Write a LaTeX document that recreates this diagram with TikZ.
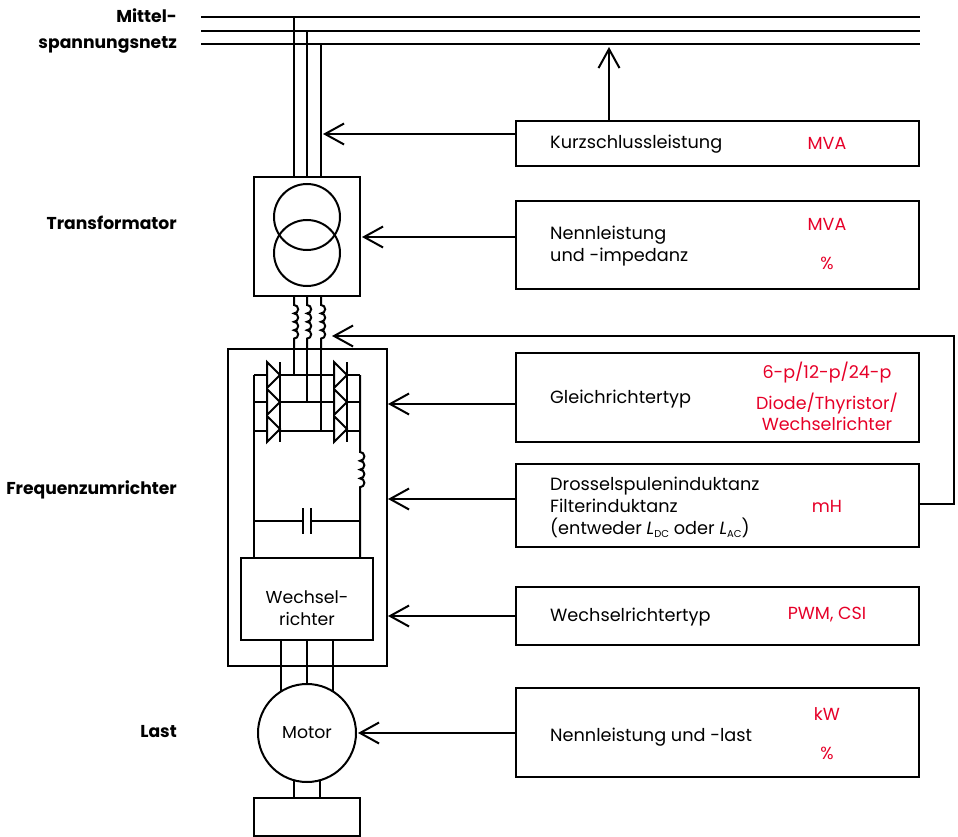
\documentclass[tikz,border=0pt]{standalone}
\usepackage{fontspec}
\setmainfont{Poppins}
\usepackage{xcolor}
\definecolor{accent}{RGB}{230,0,40}
\usetikzlibrary{arrows.meta,positioning,calc}
\tikzset{
  wire/.style={line width=2pt,draw=black},
  flow/.style={-{Straight Barb[length=19pt,width=21pt]},line width=2pt,draw=black},
  infobox/.style={draw,line width=2pt,minimum width=403pt,outer sep=0pt,inner sep=0pt},
  partbox/.style={draw,line width=2pt,outer sep=0pt,inner sep=0pt,align=center,%
    font=\fontsize{17.3}{22}\selectfont},
  info/.style={anchor=west,align=left,inner sep=0pt,font=\fontsize{17.7}{22}\selectfont},
  unit/.style={text=accent,align=center,inner sep=0pt,font=\fontsize{17.5}{21.5}\selectfont},
  row/.style={anchor=east,align=right,inner sep=0pt,font=\bfseries\fontsize{17.2}{26}\selectfont},
}
\newcommand{\subtxt}[1]{\raisebox{-3pt}{\fontsize{10}{10}\selectfont #1}}
\begin{document}
\begin{tikzpicture}[x=1pt,y=-1pt]
\useasboundingbox (0,0) rectangle (958,837);
\node[row] (netz) at (177,31) {Mittel-\\spannungsnetz};
\node[row] (trafolbl) at (177,223) {Transformator};
\node[row] (fulbl) at (177,490) {Frequenzumrichter};
\node[row] (lastlbl) at (177,732) {Last};

\node[infobox,minimum height=45pt] (kurz) at (717.5,143.5) {};
\node[infobox,minimum height=88pt,below=35pt of kurz] (nenn) {};
\node[infobox,minimum height=89pt,below=64pt of nenn] (gleich) {};
\node[infobox,minimum height=83pt,below=22pt of gleich] (dross) {};
\node[infobox,minimum height=58pt,below=40pt of dross] (wr) {};
\node[infobox,minimum height=89pt,below=43pt of wr] (last) {};

\node[info] (kurztxt) at (550,144) {Kurzschlussleistung};
\node[info] (nenntxt) at (550,246) {Nennleistung\\und -impedanz};
\node[info] (gleichtxt) at (550,399) {Gleichrichtertyp};
\node[info] (drosstxt) at (550,507) {Drosselspuleninduktanz\\Filterinduktanz\\(entweder \textit{L}\subtxt{DC} oder \textit{L}\subtxt{AC})};
\node[info] (wrtxt) at (550,617) {Wechselrichtertyp};
\node[info] (lasttxt) at (550,737) {Nennleistung und -last};

\node[unit] (kurzval) at (827,143) {MVA};
\node[unit] (nennval) at (827,224) {MVA};
\node[unit] (nennpct) at (827,263) {\%};
\node[unit] (gleichval) at (827,373) {6-p/12-p/24-p};
\node[unit] (gleichart) at (827,412) {Diode/Thyristor/\\Wechselrichter};
\node[unit] (drossval) at (827,506) {mH};
\node[unit] (wrval) at (827,615) {PWM, CSI};
\node[unit] (lastval) at (827,714) {kW};
\node[unit] (lastpct) at (827,753) {\%};

\coordinate (busa) at (201,17);
\coordinate (busb) at (201,31);
\coordinate (busc) at (201,44);
\foreach \b in {a,b,c}
  \draw[wire] (bus\b) -- (920,0 |- bus\b);

\node[partbox,minimum width=106pt,minimum height=119pt] (trafo) at (307,236.5) {};
\node[draw,circle,line width=2pt,minimum size=66pt,inner sep=0pt] (prim) at (307,217) {};
\node[draw,circle,line width=2pt,minimum size=66pt,inner sep=0pt] (sek) at (307,253) {};
\node[partbox,minimum width=159pt,minimum height=317pt] (fu) at (307.5,507.5) {};
\node[partbox,minimum width=132pt,minimum height=82pt,fill=white] (wechsel) at (307,599) {};
\node[partbox,draw=none] (wechseltxt) at (307,608) {Wechsel-\\richter};
\node[partbox,circle,minimum size=98pt] (motor) at (307,733) {Motor};
\node[partbox,minimum width=106pt,minimum height=38pt] (load) at (307,817) {};

\foreach \p/\b in {294/a,307/b,321/c}
  \draw[wire] (\p,0 |- bus\b) -- (\p,0 |- trafo.north);
\foreach \p in {294,307,321}
  \draw[wire] (\p,0 |- trafo.south) -- ++(0,9) arc(90:-90:4.2pt) arc(90:-90:4.2pt) arc(90:-90:4.2pt) arc(90:-90:4.2pt) -- (\p,0 |- fu.north);

\foreach \p/\y in {294/375,307/402,321/431}
  \draw[wire] (\p,0 |- fu.north) -- (\p,\y);
\foreach \y in {375,402,431}
  \draw[wire] (254,\y) -- (360,\y);
\draw[wire] (254,375) -- (254,0 |- wechsel.north);
\draw[wire] (360,375) -- (360,452) arc(90:-90:4.4pt) arc(90:-90:4.4pt) arc(90:-90:4.4pt) arc(90:-90:4.4pt) -- (360,0 |- wechsel.north);
\foreach \x in {267,334} {
  \foreach \y in {375,402,429}
    \draw[wire,fill=white,line join=miter] (\x,\y-13) -- (\x+13,\y) -- (\x,\y+13) -- cycle;
  \draw[wire] (\x+13,362) -- (\x+13,442);
}
\coordinate (capa) at (303,521);
\coordinate (capb) at (311,521);
\draw[wire] (254,521) -- (capa);
\draw[wire] (capb) -- (360,521);
\draw[wire] (303,508) -- (303,534);
\draw[wire] (311,508) -- (311,534);

\foreach \a in {122,90,58}
  \draw[wire] (motor.\a |- wechsel.south) -- (motor.\a);
\foreach \a in {-105,-75}
  \draw[wire] (motor.\a) -- (motor.\a |- load.north);

\coordinate (kurzin) at (323,134);
\coordinate (busin) at (609,47);
\coordinate (trafoin) at (362,237);
\coordinate (gleichin) at (388,404);
\coordinate (drossin) at (388,499);
\coordinate (wrin) at (388,616);
\coordinate (motorin) at (358,733);
\coordinate (spulein) at (332,336);
\draw[flow] (kurz.west |- kurzin) -- (kurzin);
\draw[flow] (kurz.north -| busin) -- (busin);
\draw[flow] (nenn.west |- trafoin) -- (trafoin);
\draw[flow] (gleich.west |- gleichin) -- (gleichin);
\draw[flow] (dross.west |- drossin) -- (drossin);
\draw[flow] (wr.west |- wrin) -- (wrin);
\draw[flow] (last.west |- motorin) -- (motorin);
\draw[flow] (dross.east |- 0,504) -- (954,504) -- (954,336) -- (spulein);
\end{tikzpicture}
\end{document}
